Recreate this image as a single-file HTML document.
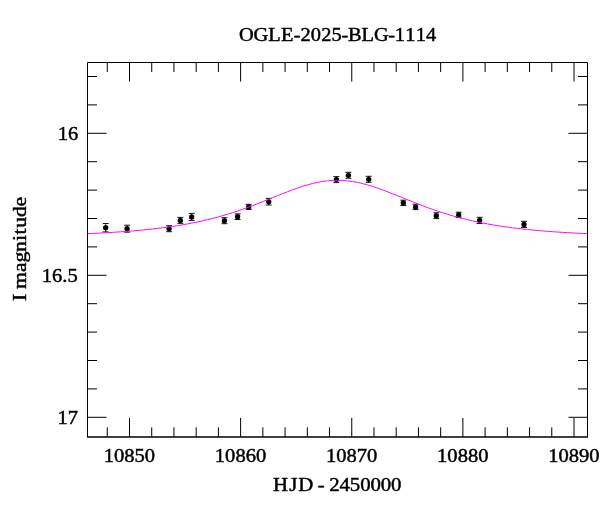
<!DOCTYPE html>
<html><head><meta charset="utf-8"><title>OGLE-2025-BLG-1114</title>
<style>html,body{margin:0;padding:0;background:#fff}svg{display:block}</style></head>
<body><svg width="600" height="512" viewBox="0 0 600 512">
<rect width="600" height="512" fill="#fff"/>
<g fill="#000" stroke="#000" stroke-width="0.45" font-family="Liberation Serif, serif">
<text transform="translate(337.7,40.5) scale(1.0574,1)" x="-93.36 -79.62 -65.78 -53.51 -41.51 -35.27 -25.45 -15.63 -5.81 3.66 9.75 22.56 34.26 47.82 54.06 63.89 73.71 83.53" y="0" font-size="19.3">OGLE-2025-BLG-1114</text>
<text transform="translate(337.1,491.3) scale(1.0801,1)" x="-59.34 -44.23 -36.02 -22.42 -17.99 -11.95 -7.22 2.30 11.82 21.35 30.87 40.39 49.92" y="0" font-size="19.3">HJD - 2450000</text>
<text transform="translate(25.9,249.1) rotate(-90) scale(1.1244,1)" x="-46.25 -39.85 -35.39 -20.35 -11.94 -2.55 7.17 12.93 18.97 28.66 37.99" y="0" font-size="19.3">I magnitude</text>
<text transform="translate(129.4,462.35) scale(1.0659,1)" x="-24.13 -14.47 -4.82 4.83 14.48" y="0" font-size="19.3">10850</text>
<text transform="translate(240.525,462.35) scale(1.0659,1)" x="-24.13 -14.47 -4.82 4.83 14.48" y="0" font-size="19.3">10860</text>
<text transform="translate(351.65,462.35) scale(1.0659,1)" x="-24.13 -14.47 -4.82 4.83 14.48" y="0" font-size="19.3">10870</text>
<text transform="translate(462.775,462.35) scale(1.0659,1)" x="-24.13 -14.47 -4.82 4.83 14.48" y="0" font-size="19.3">10880</text>
<text transform="translate(573.9,462.35) scale(1.0659,1)" x="-24.13 -14.47 -4.82 4.83 14.48" y="0" font-size="19.3">10890</text>
<text transform="translate(78.3,139.9) scale(1.0659,1)" x="-19.30 -9.65" y="0" font-size="19.3">16</text>
<text transform="translate(77.7,282.1) scale(1.0659,1)" x="-33.77 -24.12 -14.47 -9.65" y="0" font-size="19.3">16.5</text>
<text transform="translate(78.1,424) scale(1.0659,1)" x="-19.30 -9.65" y="0" font-size="19.3">17</text>
</g>
<path d="M87.5,436.85V62.5H587.5V436.85M107.28,436.85v-9.5M107.28,62.5v9.5M129.50,436.85v-19M129.50,62.5v19M151.72,436.85v-9.5M151.72,62.5v9.5M173.95,436.85v-9.5M173.95,62.5v9.5M196.18,436.85v-9.5M196.18,62.5v9.5M218.40,436.85v-9.5M218.40,62.5v9.5M240.62,436.85v-19M240.62,62.5v19M262.85,436.85v-9.5M262.85,62.5v9.5M285.08,436.85v-9.5M285.08,62.5v9.5M307.30,436.85v-9.5M307.30,62.5v9.5M329.52,436.85v-9.5M329.52,62.5v9.5M351.75,436.85v-19M351.75,62.5v19M373.98,436.85v-9.5M373.98,62.5v9.5M396.20,436.85v-9.5M396.20,62.5v9.5M418.43,436.85v-9.5M418.43,62.5v9.5M440.65,436.85v-9.5M440.65,62.5v9.5M462.88,436.85v-19M462.88,62.5v19M485.10,436.85v-9.5M485.10,62.5v9.5M507.33,436.85v-9.5M507.33,62.5v9.5M529.55,436.85v-9.5M529.55,62.5v9.5M551.78,436.85v-9.5M551.78,62.5v9.5M574.00,436.85v-19M574.00,62.5v19M87.5,76.50h9.5M587.5,76.50h-9.5M87.5,104.90h9.5M587.5,104.90h-9.5M87.5,133.30h19M587.5,133.30h-19M87.5,161.70h9.5M587.5,161.70h-9.5M87.5,190.10h9.5M587.5,190.10h-9.5M87.5,218.50h9.5M587.5,218.50h-9.5M87.5,246.90h9.5M587.5,246.90h-9.5M87.5,275.30h19M587.5,275.30h-19M87.5,303.70h9.5M587.5,303.70h-9.5M87.5,332.10h9.5M587.5,332.10h-9.5M87.5,360.50h9.5M587.5,360.50h-9.5M87.5,388.90h9.5M587.5,388.90h-9.5M87.5,417.30h19M587.5,417.30h-19" fill="none" stroke="#000" stroke-width="1"/>
<path d="M87.0,436.95H588.0" fill="none" stroke="#000" stroke-width="1.4"/>
<path d="M105.7,223.50V231.90M102.7,223.50h6M102.7,231.90h6M127.1,225.20V232.20M124.1,225.20h6M124.1,232.20h6M169.1,225.70V231.70M166.1,225.70h6M166.1,231.70h6M180.3,217.40V223.40M177.3,217.40h6M177.3,223.40h6M191.7,213.40V220.40M188.7,213.40h6M188.7,220.40h6M224.4,217.70V223.70M221.4,217.70h6M221.4,223.70h6M237.6,213.90V219.50M234.6,213.90h6M234.6,219.50h6M248.7,204.30V209.50M245.7,204.30h6M245.7,209.50h6M268.7,198.40V205.00M265.7,198.40h6M265.7,205.00h6M336.4,176.60V182.60M333.4,176.60h6M333.4,182.60h6M348.4,172.30V178.30M345.4,172.30h6M345.4,178.30h6M368.7,176.30V182.30M365.7,176.30h6M365.7,182.30h6M403.3,200.20V205.60M400.3,200.20h6M400.3,205.60h6M415.6,204.20V209.60M412.6,204.20h6M412.6,209.60h6M436.3,212.80V218.60M433.3,212.80h6M433.3,218.60h6M458.7,212.20V217.60M455.7,212.20h6M455.7,217.60h6M479.6,217.30V223.50M476.6,217.30h6M476.6,223.50h6M524,221.30V227.50M521,221.30h6M521,227.50h6" fill="none" stroke="#000" stroke-width="0.9"/>
<g fill="#000"><circle cx="105.7" cy="227.7" r="2.65"/><circle cx="127.1" cy="228.7" r="2.65"/><circle cx="169.1" cy="228.7" r="2.65"/><circle cx="180.3" cy="220.4" r="2.65"/><circle cx="191.7" cy="216.9" r="2.65"/><circle cx="224.4" cy="220.7" r="2.65"/><circle cx="237.6" cy="216.7" r="2.65"/><circle cx="248.7" cy="206.9" r="2.65"/><circle cx="268.7" cy="201.7" r="2.65"/><circle cx="336.4" cy="179.6" r="2.65"/><circle cx="348.4" cy="175.3" r="2.65"/><circle cx="368.7" cy="179.3" r="2.65"/><circle cx="403.3" cy="202.9" r="2.65"/><circle cx="415.6" cy="206.9" r="2.65"/><circle cx="436.3" cy="215.7" r="2.65"/><circle cx="458.7" cy="214.9" r="2.65"/><circle cx="479.6" cy="220.4" r="2.65"/><circle cx="524" cy="224.4" r="2.65"/></g>
<polyline points="87.5,233.67 90.0,233.55 92.5,233.44 95.0,233.32 97.5,233.19 100.0,233.07 102.5,232.93 105.0,232.79 107.5,232.65 110.0,232.50 112.5,232.35 115.0,232.19 117.5,232.03 120.0,231.86 122.5,231.68 125.0,231.50 127.5,231.31 130.0,231.11 132.5,230.90 135.0,230.69 137.5,230.47 140.0,230.24 142.5,230.01 145.0,229.76 147.5,229.51 150.0,229.24 152.5,228.97 155.0,228.69 157.5,228.39 160.0,228.09 162.5,227.77 165.0,227.44 167.5,227.10 170.0,226.75 172.5,226.38 175.0,226.01 177.5,225.61 180.0,225.21 182.5,224.78 185.0,224.35 187.5,223.90 190.0,223.43 192.5,222.94 195.0,222.44 197.5,221.92 200.0,221.39 202.5,220.83 205.0,220.26 207.5,219.67 210.0,219.06 212.5,218.43 215.0,217.78 217.5,217.11 220.0,216.42 222.5,215.71 225.0,214.98 227.5,214.22 230.0,213.45 232.5,212.66 235.0,211.85 237.5,211.02 240.0,210.16 242.5,209.29 245.0,208.40 247.5,207.50 250.0,206.57 252.5,205.63 255.0,204.68 257.5,203.71 260.0,202.73 262.5,201.74 265.0,200.74 267.5,199.74 270.0,198.73 272.5,197.71 275.0,196.70 277.5,195.69 280.0,194.68 282.5,193.69 285.0,192.70 287.5,191.73 290.0,190.77 292.5,189.84 295.0,188.93 297.5,188.04 300.0,187.19 302.5,186.37 305.0,185.60 307.5,184.86 310.0,184.17 312.5,183.52 315.0,182.93 317.5,182.39 320.0,181.91 322.5,181.49 325.0,181.13 327.5,180.83 330.0,180.60 332.5,180.43 335.0,180.33 337.5,180.30 340.0,180.33 342.5,180.44 345.0,180.61 347.5,180.84 350.0,181.15 352.5,181.51 355.0,181.94 357.5,182.42 360.0,182.96 362.5,183.56 365.0,184.20 367.5,184.90 370.0,185.64 372.5,186.42 375.0,187.24 377.5,188.09 380.0,188.98 382.5,189.89 385.0,190.82 387.5,191.78 390.0,192.75 392.5,193.74 395.0,194.74 397.5,195.75 400.0,196.76 402.5,197.77 405.0,198.78 407.5,199.79 410.0,200.80 412.5,201.80 415.0,202.79 417.5,203.77 420.0,204.73 422.5,205.69 425.0,206.63 427.5,207.55 430.0,208.45 432.5,209.34 435.0,210.21 437.5,211.06 440.0,211.89 442.5,212.71 445.0,213.50 447.5,214.27 450.0,215.02 452.5,215.75 455.0,216.46 457.5,217.15 460.0,217.81 462.5,218.46 465.0,219.09 467.5,219.70 470.0,220.29 472.5,220.86 475.0,221.42 477.5,221.95 480.0,222.47 482.5,222.97 485.0,223.45 487.5,223.92 490.0,224.37 492.5,224.81 495.0,225.23 497.5,225.64 500.0,226.03 502.5,226.41 505.0,226.77 507.5,227.12 510.0,227.46 512.5,227.79 515.0,228.10 517.5,228.41 520.0,228.70 522.5,228.99 525.0,229.26 527.5,229.52 530.0,229.78 532.5,230.02 535.0,230.26 537.5,230.48 540.0,230.70 542.5,230.92 545.0,231.12 547.5,231.32 550.0,231.51 552.5,231.69 555.0,231.87 557.5,232.04 560.0,232.20 562.5,232.36 565.0,232.51 567.5,232.66 570.0,232.80 572.5,232.94 575.0,233.07 577.5,233.20 580.0,233.32 582.5,233.44 585.0,233.56 587.5,233.67" fill="none" stroke="#ff00ff" stroke-width="0.98"/>
</svg></body></html>
